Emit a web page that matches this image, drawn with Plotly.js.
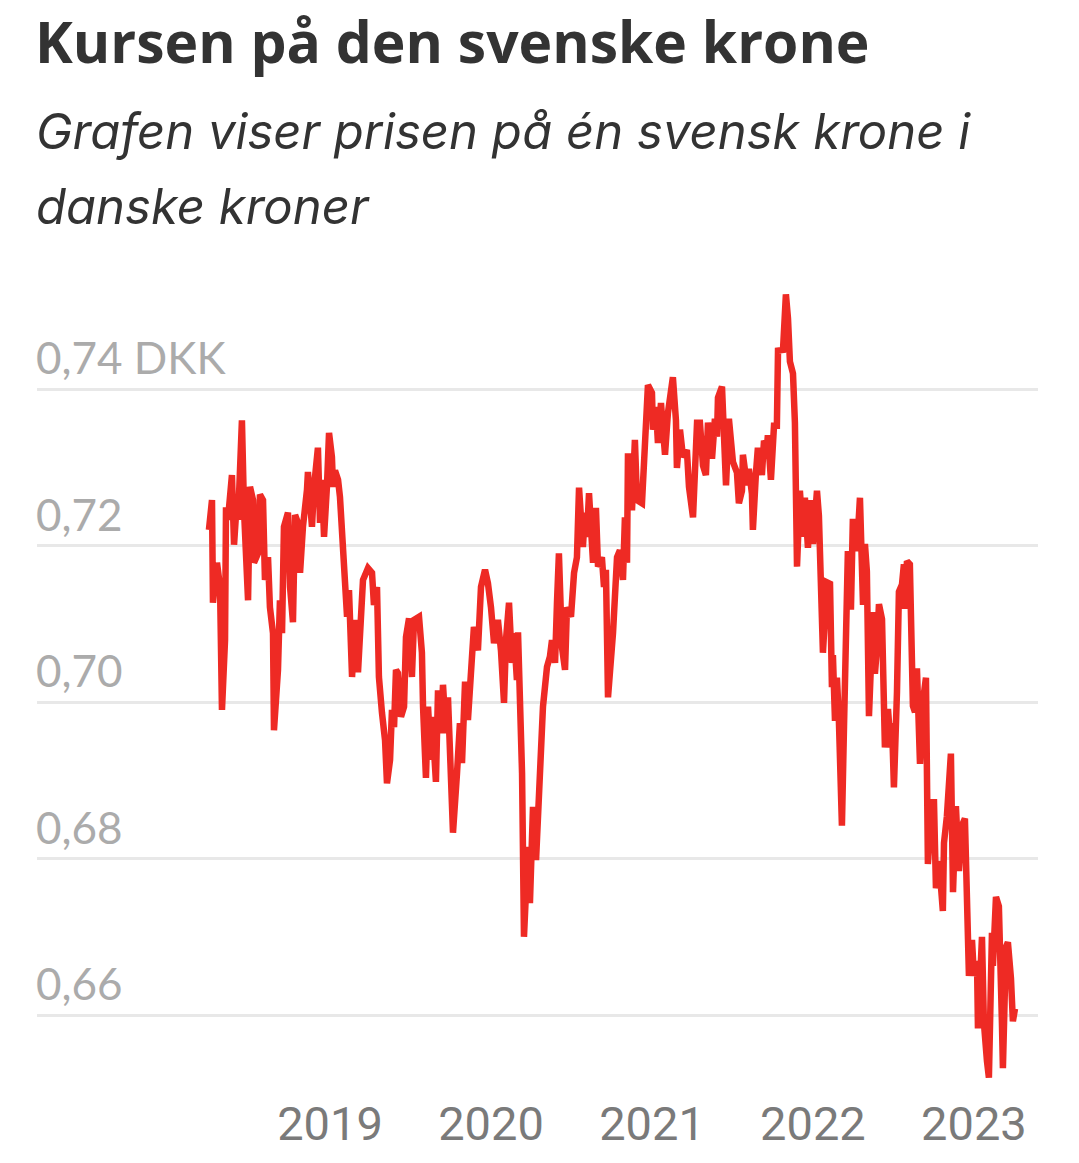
<!DOCTYPE html>
<html>
<head>
<meta charset="utf-8">
<script src="https://cdn.plot.ly/plotly-3.0.1.min.js"></script>
<style>
  html, body { margin: 0; padding: 0; background: #fff; }
  #graf { width: 1079px; height: 1163px; }
</style>
</head>
<body>
<div id="graf"></div>
<script>
// tidspunkt som decimalår, kurs i DKK pr. SEK
var aar = [
  2018.248, 2018.267, 2018.273, 2018.298, 2018.317, 2018.329, 2018.348, 2018.354, 2018.366, 2018.391,
  2018.404, 2018.422, 2018.429, 2018.453, 2018.466, 2018.491, 2018.503, 2018.522, 2018.528, 2018.553,
  2018.565, 2018.584, 2018.596, 2018.615, 2018.627, 2018.646, 2018.652, 2018.677, 2018.689, 2018.702,
  2018.714, 2018.739, 2018.752, 2018.770, 2018.783, 2018.801, 2018.814, 2018.832, 2018.857, 2018.863,
  2018.888, 2018.901, 2018.925, 2018.938, 2018.950, 2018.963, 2018.981, 2018.994, 2019.012, 2019.019,
  2019.031, 2019.050, 2019.062, 2019.081, 2019.106, 2019.118, 2019.137, 2019.155, 2019.174, 2019.205,
  2019.236, 2019.261, 2019.273, 2019.292, 2019.304, 2019.323, 2019.342, 2019.354, 2019.373, 2019.385,
  2019.398, 2019.410, 2019.422, 2019.441, 2019.460, 2019.472, 2019.491, 2019.509, 2019.522, 2019.553,
  2019.571, 2019.578, 2019.596, 2019.609, 2019.627, 2019.634, 2019.658, 2019.671, 2019.689, 2019.702,
  2019.720, 2019.733, 2019.745, 2019.764, 2019.789, 2019.807, 2019.820, 2019.839, 2019.857, 2019.876,
  2019.894, 2019.919, 2019.938, 2019.963, 2019.981, 2020.000, 2020.019, 2020.043, 2020.062, 2020.081,
  2020.093, 2020.112, 2020.130, 2020.143, 2020.161, 2020.168, 2020.193, 2020.205, 2020.230, 2020.242,
  2020.261, 2020.280, 2020.298, 2020.311, 2020.323, 2020.348, 2020.366, 2020.379, 2020.398, 2020.410,
  2020.422, 2020.441, 2020.460, 2020.472, 2020.497, 2020.516, 2020.534, 2020.547, 2020.571, 2020.584,
  2020.596, 2020.609, 2020.634, 2020.652, 2020.665, 2020.689, 2020.702, 2020.714, 2020.727, 2020.758,
  2020.770, 2020.783, 2020.801, 2020.820, 2020.832, 2020.845, 2020.851, 2020.876, 2020.894, 2020.907,
  2020.938, 2020.957, 2020.975, 2021.000, 2021.006, 2021.025, 2021.037, 2021.056, 2021.068, 2021.081,
  2021.099, 2021.130, 2021.149, 2021.155, 2021.174, 2021.193, 2021.217, 2021.230, 2021.255, 2021.267,
  2021.280, 2021.298, 2021.317, 2021.335, 2021.348, 2021.373, 2021.391, 2021.404, 2021.410, 2021.435,
  2021.447, 2021.460, 2021.478, 2021.497, 2021.503, 2021.528, 2021.540, 2021.559, 2021.565, 2021.590,
  2021.602, 2021.621, 2021.627, 2021.646, 2021.658, 2021.683, 2021.696, 2021.714, 2021.720, 2021.739,
  2021.758, 2021.776, 2021.783, 2021.814, 2021.832, 2021.845, 2021.857, 2021.876, 2021.888, 2021.901,
  2021.919, 2021.938, 2021.950, 2021.969, 2021.988, 2022.000, 2022.025, 2022.037, 2022.056, 2022.062,
  2022.087, 2022.106, 2022.118, 2022.124, 2022.137, 2022.149, 2022.161, 2022.180, 2022.193, 2022.205,
  2022.217, 2022.236, 2022.248, 2022.273, 2022.292, 2022.311, 2022.323, 2022.335, 2022.348, 2022.373,
  2022.385, 2022.398, 2022.410, 2022.429, 2022.447, 2022.466, 2022.484, 2022.491, 2022.503, 2022.522,
  2022.534, 2022.553, 2022.565, 2022.571, 2022.584, 2022.602, 2022.621, 2022.634, 2022.646, 2022.665,
  2022.683, 2022.702, 2022.714, 2022.739, 2022.752, 2022.764, 2022.783, 2022.807, 2022.814, 2022.832,
  2022.857, 2022.870, 2022.888, 2022.907, 2022.925, 2022.944, 2022.957, 2022.969, 2022.988, 2023.000,
  2023.019, 2023.025, 2023.050, 2023.062, 2023.081, 2023.093, 2023.112, 2023.118, 2023.137, 2023.155,
  2023.174, 2023.180, 2023.199, 2023.211, 2023.230, 2023.242, 2023.255
];
var kurs = [
  0.7220, 0.7258, 0.7127, 0.7178, 0.7147, 0.6990, 0.7079, 0.7249, 0.7233, 0.7290,
  0.7201, 0.7258, 0.7233, 0.7360, 0.7245, 0.7130, 0.7275, 0.7258, 0.7178, 0.7190,
  0.7265, 0.7258, 0.7156, 0.7185, 0.7121, 0.7088, 0.6964, 0.7041, 0.7130, 0.7088,
  0.7224, 0.7242, 0.7147, 0.7102, 0.7239, 0.7229, 0.7165, 0.7224, 0.7271, 0.7294,
  0.7224, 0.7275, 0.7325, 0.7229, 0.7284, 0.7211, 0.7275, 0.7344, 0.7313, 0.7275,
  0.7296, 0.7284, 0.7262, 0.7194, 0.7109, 0.7143, 0.7032, 0.7105, 0.7038, 0.7156,
  0.7171, 0.7165, 0.7124, 0.7147, 0.7032, 0.6986, 0.6951, 0.6896, 0.6926, 0.6990,
  0.6968, 0.7041, 0.7037, 0.6981, 0.6994, 0.7083, 0.7107, 0.7032, 0.7105, 0.7109,
  0.7063, 0.6994, 0.6903, 0.6994, 0.6926, 0.6981, 0.6898, 0.7015, 0.6960, 0.7022,
  0.6960, 0.7006, 0.6909, 0.6833, 0.6909, 0.6973, 0.6922, 0.7026, 0.6977, 0.7037,
  0.7096, 0.7066, 0.7147, 0.7169, 0.7152, 0.7121, 0.7075, 0.7105, 0.7066, 0.6999,
  0.7079, 0.7127, 0.7050, 0.7088, 0.7028, 0.7089, 0.6909, 0.6700, 0.6815, 0.6743,
  0.6866, 0.6798, 0.6875, 0.6926, 0.6994, 0.7045, 0.7058, 0.7079, 0.7050, 0.7127,
  0.7190, 0.7070, 0.7041, 0.7121, 0.7109, 0.7165, 0.7185, 0.7274, 0.7198, 0.7242,
  0.7211, 0.7267, 0.7178, 0.7248, 0.7173, 0.7185, 0.7147, 0.7169, 0.7006, 0.7088,
  0.7160, 0.7185, 0.7194, 0.7156, 0.7236, 0.7178, 0.7318, 0.7245, 0.7335, 0.7258,
  0.7254, 0.7339, 0.7405, 0.7395, 0.7348, 0.7377, 0.7331, 0.7382, 0.7344, 0.7316,
  0.7369, 0.7415, 0.7360, 0.7299, 0.7348, 0.7313, 0.7322, 0.7275, 0.7236, 0.7288,
  0.7357, 0.7357, 0.7302, 0.7290, 0.7357, 0.7311, 0.7362, 0.7339, 0.7389, 0.7403,
  0.7357, 0.7277, 0.7362, 0.7330, 0.7307, 0.7293, 0.7254, 0.7270, 0.7316, 0.7277,
  0.7298, 0.7266, 0.7220, 0.7293, 0.7325, 0.7290, 0.7334, 0.7325, 0.7341, 0.7284,
  0.7353, 0.7353, 0.7449, 0.7450, 0.7521, 0.7490, 0.7435, 0.7420, 0.7357, 0.7173,
  0.7270, 0.7211, 0.7261, 0.7197, 0.7258, 0.7202, 0.7270, 0.7238, 0.7142, 0.7063,
  0.7153, 0.7151, 0.7019, 0.7060, 0.6976, 0.7031, 0.6978, 0.6842, 0.6969, 0.7151,
  0.7193, 0.7118, 0.7234, 0.7193, 0.7261, 0.7124, 0.7202, 0.7167, 0.6982, 0.7115,
  0.7036, 0.7070, 0.7125, 0.7106, 0.6942, 0.6991, 0.6942, 0.6973, 0.6891, 0.7013,
  0.7141, 0.7150, 0.7176, 0.7119, 0.7180, 0.7176, 0.6995, 0.6987, 0.7043, 0.6921,
  0.7000, 0.7031, 0.6793, 0.6872, 0.6872, 0.6762, 0.6797, 0.6733, 0.6820, 0.6854,
  0.6934, 0.6757, 0.6867, 0.6784, 0.6842, 0.6851, 0.6744, 0.6650, 0.6696, 0.6650,
  0.6669, 0.6583, 0.6700, 0.6590, 0.6541, 0.6520, 0.6705, 0.6663, 0.6751, 0.6739,
  0.6590, 0.6532, 0.6687, 0.6693, 0.6647, 0.6592, 0.6608
];

var aarTicks = [2019, 2020, 2021, 2022, 2023];
var aarTekst = ['2019', '2020', '2021', '2022', '2023'];
var kursTicks = [0.66, 0.68, 0.70, 0.72, 0.74];
var kursTekst = ['0,66', '0,68', '0,70', '0,72', '0,74 DKK'];

var titel = 'Kursen på den svenske krone';
var undertitel = ['Grafen viser prisen på én svensk krone i', 'danske kroner'];

// y-etiketter ligger over gitterlinjen, venstrestillet
var noter = kursTicks.map(function(v, i) {
    return {
        text: kursTekst[i], x: 0, xref: 'paper', xanchor: 'left', xshift: -3,
        y: v, yref: 'y', yanchor: 'bottom', yshift: 4,
        showarrow: false,
        font: { family: 'Lato', size: 44, color: '#ababab' }
    };
});
var underY = [1.1850, 1.0918];
undertitel.forEach(function(linje, i) {
    noter.push({
        text: '<i>' + linje + '</i>', x: 0, xref: 'paper', xanchor: 'left', xshift: -3,
        y: underY[i], yref: 'paper', yanchor: 'middle',
        showarrow: false,
        font: { family: 'Inter', size: 49, color: '#333333' }
    });
});

var spor = [{
    x: aar,
    y: kurs,
    type: 'scatter',
    mode: 'lines',
    line: { color: '#ee2a24', width: 6.5 },
    hoverinfo: 'skip'
}];

var layout = {
    width: 1079,
    height: 1163,
    margin: { l: 37, r: 41, t: 280, b: 78 },
    paper_bgcolor: '#ffffff',
    plot_bgcolor: '#ffffff',
    showlegend: false,
    title: {
        text: titel,
        x: 35 / 1079, xref: 'container', xanchor: 'left',
        y: 0.963, yref: 'container', yanchor: 'middle',
        font: { family: 'Open Sans', size: 57, color: '#333333', weight: 700 }
    },
    xaxis: {
        range: [2017.180, 2023.398],
        tickvals: aarTicks,
        ticktext: aarTekst,
        ticks: '',
        ticklabelstandoff: 7,
        showgrid: false,
        zeroline: false,
        showline: false,
        fixedrange: true,
        tickfont: { family: 'Roboto', size: 47, color: '#7a7a7a' }
    },
    yaxis: {
        range: [0.65106, 0.75393],
        tickvals: kursTicks,
        showticklabels: false,
        ticks: '',
        gridcolor: '#e8e8e8',
        gridwidth: 3,
        zeroline: false,
        showline: false,
        fixedrange: true
    },
    annotations: noter
};

Plotly.newPlot('graf', spor, layout, { staticPlot: true, displayModeBar: false });
</script>
</body>
</html>
